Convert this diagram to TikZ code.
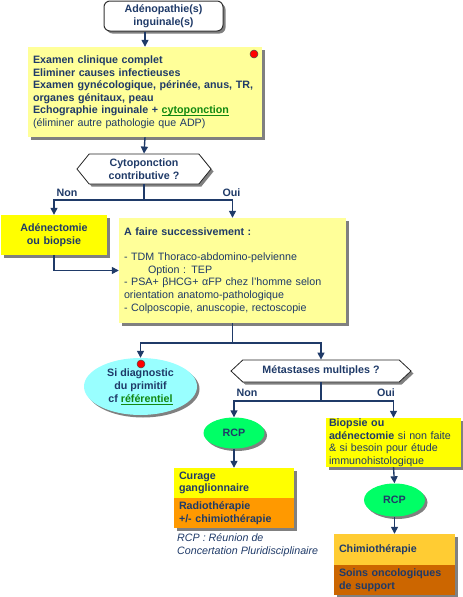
\documentclass[tikz,border=0pt]{standalone}
\usepackage{fontspec}
\setmainfont{Liberation Sans}
\usetikzlibrary{positioning,shapes.geometric,shapes.symbols,shadows,arrows.meta}
\definecolor{navy}{HTML}{1F3A68}
\definecolor{paleyellow}{HTML}{FFFF99}
\definecolor{lemon}{HTML}{FFFF00}
\definecolor{tangerine}{HTML}{FF9900}
\definecolor{gold}{HTML}{FFCC33}
\definecolor{rust}{HTML}{CC6600}
\definecolor{skyblue}{HTML}{99FFFF}
\definecolor{mint}{HTML}{00FF66}
\definecolor{linkgreen}{HTML}{118811}
\newcommand{\fsz}{\fontsize{10.7}{12.5}\selectfont}
\newcommand{\souligne}[1]{\textcolor{linkgreen}{$\underline{\smash{\hbox{#1}}}$}}

\begin{document}
\begin{tikzpicture}[x=1pt,y=-1pt,>={Triangle[width=7pt,length=7pt]},
    every node/.style={font=\fsz,text=navy},
    shade/.style={drop shadow={shadow xshift=2.5pt,shadow yshift=-2.5pt,fill=black!50,opacity=1}},
    box/.style={rectangle,inner xsep=5pt,inner ysep=0pt,align=left,shade},
    hexa/.style={shape=signal,signal to=west and east,draw=black!85,line width=0.8pt,fill=white,
        inner sep=0pt,align=center,font=\fsz\bfseries,shade},
    oval/.style={ellipse,inner sep=0pt,align=center,font=\fsz\bfseries,shade},
    reddot/.style={circle,fill=red,draw=black!70,line width=0.5pt,inner sep=0pt,minimum size=8pt},
    link/.style={draw=navy,line width=1.4pt},
    answer/.style={font=\fsz\bfseries}]
    \useasboundingbox (0,0) rectangle (463,597);

    % top of the tree
    \node[rectangle,rounded corners=6pt,draw=black!80,line width=1pt,fill=white,shade,
        minimum width=119pt,minimum height=30pt,inner sep=0pt,align=center,
        font=\fsz\bfseries] (start) at (163.5,16) {Adénopathie(s)\\inguinale(s)};
    \node[box,fill=paleyellow,text width=224pt,minimum height=90pt] (exam) at (145,92)
        {\textbf{Examen clinique complet}\\
         \textbf{Eliminer causes infectieuses}\\
         \textbf{Examen gynécologique, périnée, anus, TR,}\\
         \textbf{organes génitaux, peau}\\
         \textbf{Echographie inguinale + \souligne{cytoponction}}\\
         (éliminer autre pathologie que ADP)};
    \node[reddot] (dot1) at (254,54) {};
    \node[hexa,signal pointer angle=102,minimum width=134pt,minimum height=30pt] (cyto) at (144,169)
        {Cytoponction\\contributive ?};

    % first answer
    \coordinate (b1) at (144,200);
    \node[answer] (non1) at (67,193) {Non};
    \node[answer] (oui1) at (231.5,193) {Oui};
    \node[box,fill=lemon,align=center,text width=96pt,minimum height=40pt,
        font=\fsz\bfseries] (adn) at (54,235) {Adénectomie\\ou biopsie};
    \node[box,fill=paleyellow,text width=217pt,minimum height=105pt,
        font=\fontsize{10.7}{12.7}\selectfont] (faire) at (232.5,270.5)
        {\textbf{A faire successivement :}\\[12.7pt]
         - TDM Thoraco-abdomino-pelvienne\\
         \hspace*{24pt}Option : TEP\\
         - PSA+ βHCG+ αFP chez l'homme selon\\
         orientation anatomo-pathologique\\
         - Colposcopie, anuscopie, rectoscopie};

    % second level
    \coordinate (b2) at (232.5,343);
    \node[oval,fill=skyblue,minimum width=113pt,minimum height=57pt,
        font=\fontsize{10.7}{13}\selectfont\bfseries] (primitif) at (140.5,386.5)
        {Si diagnostic\\du primitif\\cf \souligne{référentiel}};
    \node[reddot] (dot2) at (141,364) {};
    \node[hexa,signal pointer angle=86,minimum width=180pt,minimum height=22pt] (meta) at (321,371)
        {Métastases multiples ?};

    % last level
    \coordinate (b3) at (321,401);
    \node[answer] (non2) at (247,393) {Non};
    \node[answer] (oui2) at (386,393) {Oui};
    \node[oval,fill=mint,minimum width=61pt,minimum height=31pt] (rcp1) at (234,433) {RCP};
    \node[box,fill=lemon,inner xsep=3pt,text width=129pt,minimum height=49pt] (biop) at (393.5,442.5)
        {\textbf{Biopsie ou}\\
         \textbf{adénectomie} si non faite\\
         \& si besoin pour étude\\
         immunohistologique};
    \node[box,fill=lemon,text width=110pt,minimum height=30pt,
        font=\fsz\bfseries] (curage) at (234,483) {Curage\\ganglionnaire};
    \node[box,fill=tangerine,text width=110pt,minimum height=30pt,
        font=\fsz\bfseries] (radio) at (234,513) {Radiothérapie\\+/- chimiothérapie};
    \node[anchor=north west,inner sep=0pt,align=left,font=\fontsize{10.7}{13}\selectfont\itshape] (legende) at (177,533)
        {RCP : Réunion de\\Concertation Pluridisciplinaire};
    \node[oval,fill=mint,minimum width=61pt,minimum height=33pt] (rcp2) at (394.5,500) {RCP};
    \node[box,fill=gold,text width=111pt,minimum height=31pt,
        font=\fsz\bfseries] (chimio) at (394.5,549.5) {Chimiothérapie};
    \node[box,fill=rust,text width=111pt,minimum height=30pt,
        font=\fsz\bfseries] (soins) at (394.5,580) {Soins oncologiques\\de support};

    % connectors
    \draw[link,->] (exam.north |- start.south) -- (exam.north);
    \draw[link,->] (exam.south) -- (cyto.north);
    \draw[link] (cyto.south) -- (b1);
    \draw[link,->] (b1) -| (adn.north);
    \draw[link,->] (b1) -| (faire.north);
    \draw[link,->] (adn.south) |- (faire.west);
    \draw[link] (faire.south) -- (b2);
    \draw[link,->] (b2) -| (primitif.north);
    \draw[link,->] (b2) -| (meta.north);
    \draw[link] (meta.south) -- (b3);
    \draw[link,->] (b3) -| (rcp1.north);
    \draw[link,->] (b3) -| (biop.north);
    \draw[link,->] (rcp1.south) -- (curage.north);
    \draw[link,->] (biop.south) -- (rcp2.north);
    \draw[link,->] (rcp2.south) -- (chimio.north);
\end{tikzpicture}
\end{document}
